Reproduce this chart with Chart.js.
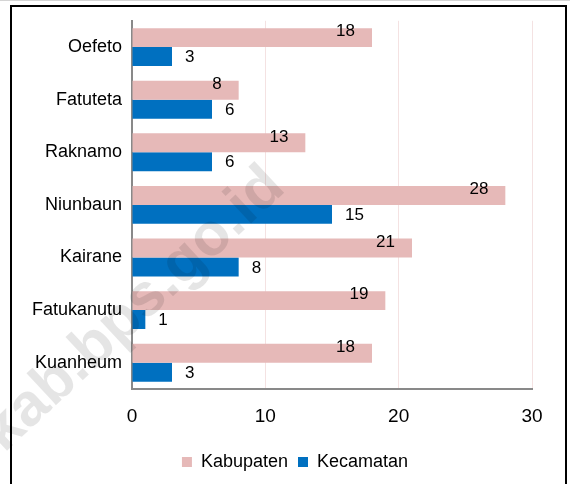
<!DOCTYPE html>
<html>
<head>
<meta charset="utf-8">
<script src="https://cdn.jsdelivr.net/npm/chart.js@4.4.1/dist/chart.umd.min.js"></script>
<style>
  html, body { margin: 0; padding: 0; background: #ffffff; }
  #wrap { width: 570px; height: 484px; position: relative; }
</style>
</head>
<body>
<div id="wrap"><canvas id="c" width="570" height="484"></canvas></div>
<script>
const categories = ["Oefeto", "Fatuteta", "Raknamo", "Niunbaun", "Kairane", "Fatukanutu", "Kuanheum"];
const kabupaten = [18, 8, 13, 28, 21, 19, 18];
const kecamatan = [3, 6, 6, 15, 8, 1, 3];
const seriesNames = ["Kabupaten", "Kecamatan"];
const xTicks = [0, 10, 20, 30];
const watermark = "kab.bps.go.id";

const FONT = "'Liberation Sans', Arial, sans-serif";

const labelPlugin = {
  id: 'labels',
  afterLayout(chart) {
    const lg = chart.legend;
    if (lg) {
      lg.left += 19; lg.right += 19;
      lg.top += 2; lg.bottom += 2;
    }
  },
  afterDatasetsDraw(chart) {
    const ctx = chart.ctx;
    ctx.save();
    ctx.fillStyle = '#000000';
    ctx.font = "17px " + FONT;
    ctx.textBaseline = 'middle';
    chart.data.datasets.forEach((ds, di) => {
      const meta = chart.getDatasetMeta(di);
      meta.data.forEach((bar, i) => {
        const v = ds.data[i];
        if (di === 0) {
          ctx.textAlign = 'right';
          ctx.fillText(String(v), bar.x - 17, bar.y - 6);
        } else {
          ctx.textAlign = 'left';
          ctx.fillText(String(v), bar.x + 13, bar.y + 1);
        }
      });
    });
    ctx.restore();
  },
  afterDraw(chart) {
    const ctx = chart.ctx;
    ctx.save();
    // watermark
    ctx.translate(287, 190);
    ctx.rotate(-0.75);
    ctx.font = "bold 60px " + FONT;
    ctx.fillStyle = 'rgba(0,0,0,0.10)';
    ctx.textAlign = 'right';
    ctx.textBaseline = 'alphabetic';
    ctx.fillText(watermark, 0, 0);
    ctx.restore();
    ctx.save();
    ctx.strokeStyle = '#000000';
    ctx.lineWidth = 2;
    ctx.strokeRect(11, 6, 555, 520);
    ctx.fillStyle = '#d4d4d4';
    ctx.fillRect(0, 0, 570, 1);
    ctx.restore();
  }
};

new Chart(document.getElementById('c'), {
  type: 'bar',
  data: {
    labels: categories,
    datasets: [
      { label: seriesNames[0], data: kabupaten, backgroundColor: '#E6B9B8', borderWidth: 0 },
      { label: seriesNames[1], data: kecamatan, backgroundColor: '#0070C0', borderWidth: 0 }
    ]
  },
  options: {
    indexAxis: 'y',
    responsive: false,
    animation: false,
    devicePixelRatio: 1,
    categoryPercentage: 0.72,
    barPercentage: 1.0,
    layout: { padding: { left: 20, right: 38, top: 18, bottom: 5 } },
    scales: {
      x: {
        min: 0, max: 30,
        afterBuildTicks(scale) { scale.ticks = xTicks.map(v => ({ value: v })); },
        afterFit(scale) { scale.height = 52; },
        ticks: { color: '#000000', font: { family: FONT, size: 19 }, padding: 16 },
        grid: {
          drawTicks: false,
          color: (c) => (c.tick && c.tick.value === 0) ? 'rgba(0,0,0,0)' : '#F4E2E2',
          lineWidth: 1
        },
        border: { display: true, color: '#898989', width: 2 }
      },
      y: {
        afterFit(scale) { scale.width = 112; },
        ticks: { color: '#000000', font: { family: FONT, size: 18 }, padding: 10 },
        grid: { display: false, drawTicks: false },
        border: { display: true, color: '#898989', width: 2 }
      }
    },
    plugins: {
      legend: {
        position: 'bottom',
        labels: {
          color: '#000000',
          font: { family: FONT, size: 18 },
          boxWidth: 10, boxHeight: 10, padding: 10
        }
      },
      tooltip: { enabled: false }
    }
  },
  plugins: [labelPlugin]
});
</script>
</body>
</html>
